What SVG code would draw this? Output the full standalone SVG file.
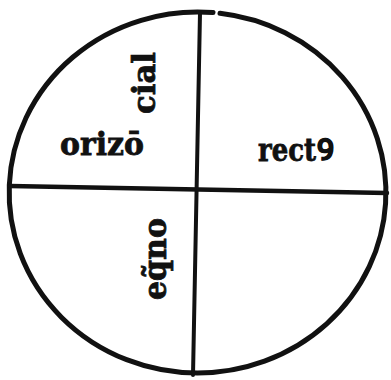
<svg xmlns="http://www.w3.org/2000/svg" width="391" height="380" viewBox="0 0 391 380">
<style>
.ln{fill:none;stroke:#111;stroke-linecap:round}
.t{font-family:"DejaVu Serif","Liberation Serif",serif;font-weight:bold;fill:#111;stroke:#111;stroke-width:0.8;font-size:32px}
.us{font-size:44px}
</style>
<rect width="391" height="380" fill="#fff"/>
<g id="circle">
<path class="ln" stroke-width="5" d="M 213 12.6 A 188.5 180.5 0 1 0 197.5 373 A 188.5 180.5 0 0 0 220 13.3"/>
</g>
<g id="lines">
<line class="ln" stroke-width="4" x1="200" y1="13" x2="193" y2="375"/>
<line class="ln" stroke-width="4.5" x1="10" y1="186" x2="387" y2="193"/>
</g>
<g id="label-orizo"><text class="t" x="60" y="155" textLength="84" lengthAdjust="spacingAndGlyphs">orizō</text></g>
<g id="label-rectus"><text class="t" x="258" y="161" textLength="58" lengthAdjust="spacingAndGlyphs">rect</text><text class="t us" x="317" y="166">ꝰ</text></g>
<g id="label-cial"><text class="t" transform="translate(155,114) rotate(-90)" textLength="62" lengthAdjust="spacingAndGlyphs">cial</text></g>
<g id="label-equno"><text class="t" transform="translate(166,300) rotate(-90)" textLength="82" lengthAdjust="spacingAndGlyphs">eq̃no</text></g>
</svg>
